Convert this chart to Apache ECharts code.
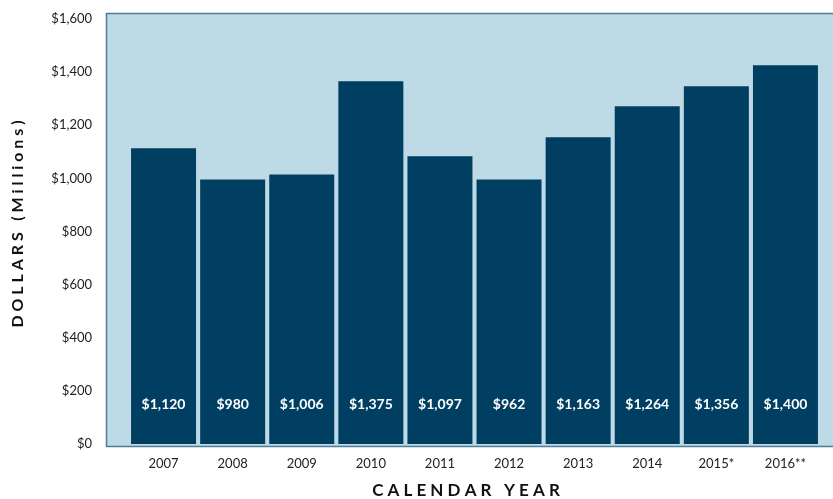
<!DOCTYPE html>
<html>
<head>
<meta charset="utf-8">
<script src="https://cdn.jsdelivr.net/npm/echarts@6/dist/echarts.min.js"></script>
<style>html,body{margin:0;padding:0;background:#fff}#c{width:833px;height:499px}</style>
</head>
<body>
<div id="c"></div>
<script>
const categories = ['2007','2008','2009','2010','2011','2012','2013','2014','2015*','2016**'];
const barValues = [1113, 996, 1015, 1366, 1083, 996, 1155, 1272, 1347, 1426];
const barLabels = ['$1,120','$980','$1,006','$1,375','$1,097','$962','$1,163','$1,264','$1,356','$1,400'];
const yTicks = [0, 200, 400, 600, 800, 1000, 1200, 1400, 1600];
const xTitle = 'C A L E N D A R   Y E A R';
const yTitle = 'D O L L A R S   ( M i l l i o n s )';

const font = 'Lato, "Open Sans", sans-serif';
const chart = echarts.init(document.getElementById('c'), null, {renderer: 'canvas'});
chart.setOption({
  animation: false,
  graphic: [{
    type: 'rect', z: -10, silent: true,
    shape: {x: 106.5, y: 13.5, width: 740, height: 433},
    style: {fill: '#bedae6', stroke: '#4f7d99', lineWidth: 1.5}
  }, {
    type: 'text', silent: true,
    x: 466, y: 491,
    style: {text: xTitle, fontFamily: font, fontWeight: 'bold', fontSize: 17, fill: '#111', align: 'center', verticalAlign: 'middle'}
  }, {
    type: 'text', silent: true,
    x: 18, y: 224, rotation: Math.PI / 2,
    style: {text: yTitle, fontFamily: font, fontWeight: 'bold', fontSize: 16, fill: '#111', align: 'center', verticalAlign: 'middle'}
  }],
  grid: {left: 129, right: 13, top: 19, bottom: 55, outerBoundsMode: 'none', containLabel: false},
  xAxis: {
    type: 'category',
    data: categories,
    axisLine: {show: false},
    axisTick: {show: false},
    axisLabel: {color: '#222', fontFamily: font, fontSize: 13, margin: 13}
  },
  yAxis: {
    type: 'value',
    min: 0, max: 1600, interval: 200,
    splitLine: {show: false},
    axisLine: {show: false},
    axisTick: {show: false},
    axisLabel: {
      color: '#222', fontFamily: font, fontSize: 13, margin: 37,
      formatter: v => yTicks.includes(v) ? '$' + v.toLocaleString('en-US') : ''
    }
  },
  series: [{
    type: 'bar',
    data: barValues,
    barWidth: 65,
    itemStyle: {color: '#013f62'},
    label: {
      show: true,
      position: 'insideBottom',
      distance: 33,
      color: '#fff',
      fontFamily: font,
      fontWeight: 'bold',
      fontSize: 14,
      formatter: p => barLabels[p.dataIndex]
    }
  }]
});
</script>
</body>
</html>
